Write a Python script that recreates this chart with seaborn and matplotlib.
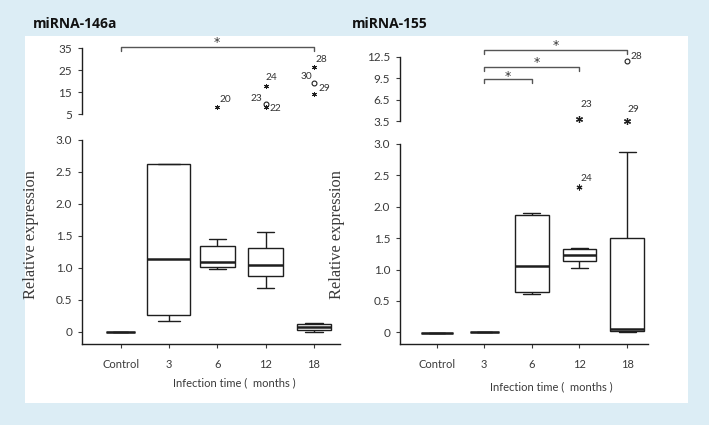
import numpy as np
import pandas as pd
import matplotlib
matplotlib.use("Agg")
import matplotlib.pyplot as plt
from matplotlib.patches import Rectangle
import seaborn as sns

sns.set_style("white")
plt.rcParams['font.family'] = ['Lato', 'DejaVu Sans']

categories = ['Control', '3', '6', '12', '18']

# miRNA-146a box statistics (whisker low, Q1, median, Q3, whisker high)
mir146_low = [0.0, 0.17, 0.99, 0.69, 0.0]
mir146_q1 = [0.0, 0.27, 1.01, 0.87, 0.035]
mir146_med = [0.0, 1.14, 1.09, 1.045, 0.08]
mir146_q3 = [0.0, 2.62, 1.34, 1.305, 0.115]
mir146_high = [0.0, 2.63, 1.45, 1.555, 0.14]
mir146_widths = [0.6, 0.89, 0.72, 0.72, 0.72]

# miRNA-146a outliers (upper broken axis)
mir146_out_cat = ['6', '12', '12', '12', '18', '18', '18']
mir146_out_val = [8.1, 17.6, 9.7, 8.3, 26.4, 19.0, 14.1]
mir146_out_lab = ['20', '24', '23', '22', '28', '30', '29']
mir146_out_mark = ['*', '*', 'o', '*', '*', 'o', '*']

# miRNA-155 box statistics
mir155_low = [-0.015, 0.01, 0.605, 1.025, 0.0]
mir155_q1 = [-0.015, 0.01, 0.637, 1.131, 0.027]
mir155_med = [-0.015, 0.01, 1.057, 1.232, 0.053]
mir155_q3 = [-0.015, 0.01, 1.875, 1.333, 1.498]
mir155_high = [-0.015, 0.01, 1.906, 1.344, 2.878]
mir155_widths = [0.67, 0.61, 0.71, 0.7, 0.71]

# miRNA-155 outliers
mir155_up_cat = ['18', '12', '18']
mir155_up_val = [11.85, 3.76, 3.53]
mir155_up_lab = ['28', '23', '29']
mir155_up_mark = ['o', '*', '*']
mir155_low_cat = ['12']
mir155_low_val = [2.32]
mir155_low_lab = ['24']

TICK_C = '#3a3a3a'
LINE_C = '#1e1e1e'

fig = plt.figure(figsize=(7.09, 4.25), dpi=100)
fig.patch.set_facecolor('#dcedf5')
fig.patches.append(Rectangle((25 / 709, 1 - 403 / 425), 663 / 709, 367 / 425,
                             transform=fig.transFigure, facecolor='white',
                             edgecolor='none', zorder=-10))


def px_axes(x0, x1, y0, y1):
    return fig.add_axes([x0 / 709, 1 - y1 / 425, (x1 - x0) / 709, (y1 - y0) / 425])


def make_df(low, q1, med, q3, high):
    rows = []
    for c, a, b, m, d, e in zip(categories, low, q1, med, q3, high):
        for v in (a, b, m, d, e):
            rows.append({'cat': c, 'val': v})
    return pd.DataFrame(rows)


def draw_boxes(ax, df, widths):
    for c, w in zip(categories, widths):
        sns.boxplot(data=df[df['cat'] == c], x='cat', y='val', order=categories,
                    width=w, color='white', saturation=1, linecolor=LINE_C,
                    linewidth=1.0, showfliers=False, whis=10,
                    medianprops={'linewidth': 1.8, 'color': LINE_C}, ax=ax)


def mark(ax, x, y, m, size_star=4.5, mew=0.8):
    if m == '*':
        ax.plot([x], [y], marker=(6, 2, 0), markersize=size_star, color=LINE_C,
                mew=mew, linestyle='none', clip_on=False, zorder=5)
    else:
        ax.plot([x], [y], marker='o', markersize=3.5, markerfacecolor='white',
                markeredgecolor=LINE_C, mew=0.8, linestyle='none', clip_on=False, zorder=5)


def style_lower(ax, xlim, ylim):
    ax.set_xlim(*xlim)
    ax.set_ylim(*ylim)
    ax.patch.set_alpha(0)
    for s in ('top', 'right'):
        ax.spines[s].set_visible(False)
    for s in ('left', 'bottom'):
        ax.spines[s].set_color(LINE_C)
        ax.spines[s].set_linewidth(1.0)
    ax.spines['left'].set_bounds(ylim[0], 3.0)
    ax.set_yticks([0, 0.5, 1.0, 1.5, 2.0, 2.5, 3.0])
    ax.set_yticklabels(['0', '0.5', '1.0', '1.5', '2.0', '2.5', '3.0'])
    ax.set_xticks(range(len(categories)))
    ax.set_xticklabels(categories)
    ax.tick_params(axis='y', left=True, length=3, width=0.8, color=TICK_C,
                   labelsize=8.5, labelcolor=TICK_C, pad=4)
    ax.tick_params(axis='x', bottom=True, length=3, width=0.8, color=TICK_C,
                   labelsize=8, labelcolor=TICK_C, pad=8)
    ax.set_xlabel('Infection time (  months )', fontsize=8, color=TICK_C)
    ax.set_ylabel('Relative expression', fontsize=11.8, color=TICK_C,
                  family=['Liberation Serif', 'DejaVu Serif'])


def style_upper(ax, xlim, ylim, ticks, labels):
    ax.set_xlim(*xlim)
    ax.set_ylim(*ylim)
    ax.patch.set_alpha(0)
    for s in ('top', 'right', 'bottom'):
        ax.spines[s].set_visible(False)
    ax.spines['left'].set_color(LINE_C)
    ax.spines['left'].set_linewidth(1.0)
    ax.set_xticks([])
    ax.set_yticks(ticks)
    ax.set_yticklabels(labels)
    ax.tick_params(axis='y', left=True, length=3, width=0.8, color=TICK_C,
                   labelsize=8.5, labelcolor=TICK_C, pad=4)


def bracket(ax, x0, x1, y, d, ystar, xstar=None):
    ax.plot([x0, x0, x1, x1], [y - d, y, y, y - d], color='#555555', lw=1.0,
            clip_on=False, zorder=4)
    if xstar is None:
        xstar = (x0 + x1) / 2
    ax.text(xstar, ystar, '*', ha='center', va='center', fontsize=9, color='#333333',
            clip_on=False, family=['DejaVu Sans'])


def label(ax, x, y, t, dx, dy, ha, va='bottom'):
    ax.annotate(t, (x, y), xytext=(dx, dy), textcoords='offset points', ha=ha, va=va,
                fontsize=7.3, color='#333333', annotation_clip=False)


idx = {c: i for i, c in enumerate(categories)}

# ---------------- Left: miRNA-146a ----------------
xlimL = (-0.8, 4.54)
axL = px_axes(82, 340, 140, 344)
draw_boxes(axL, make_df(mir146_low, mir146_q1, mir146_med, mir146_q3, mir146_high), mir146_widths)
style_lower(axL, xlimL, (-0.19, 3.0))
axL.xaxis.set_label_coords(0.59, -0.165)
axL.yaxis.set_label_coords(-0.165, 0.535)

axLu = px_axes(82, 340, 48.3, 114)
style_upper(axLu, xlimL, (5, 35), [5, 15, 25, 35], ['5', '15', '25', '35'])
offs146 = {'20': (1.5, 2, 'left', 'bottom'), '24': (0, 3, 'left', 'bottom'),
           '23': (-2.5, 0.5, 'right', 'bottom'), '22': (2.5, -1, 'left', 'center'),
           '28': (1.5, 2.5, 'left', 'bottom'), '30': (-1.5, 2, 'right', 'bottom'),
           '29': (3.5, 1, 'left', 'bottom')}
for c, v, t, m in zip(mir146_out_cat, mir146_out_val, mir146_out_lab, mir146_out_mark):
    mark(axLu, idx[c], v, m, size_star=3.6, mew=0.7)
    dx, dy, ha, va = offs146[t]
    label(axLu, idx[c], v, t, dx, dy, ha, va)
bracket(axLu, 0, 4, 35.7, 1.8, 37.6)

fig.text(33 / 709, 1 - 24 / 425, 'miRNA-146a', ha='left', va='center', fontsize=10,
         fontweight='bold', family=['Open Sans', 'DejaVu Sans'], color='#111111')

# ---------------- Right: miRNA-155 ----------------
xlimR = (-0.77, 4.44)
axR = px_axes(400, 648, 144, 344)
draw_boxes(axR, make_df(mir155_low, mir155_q1, mir155_med, mir155_q3, mir155_high), mir155_widths)
style_lower(axR, xlimR, (-0.186, 3.0))
axR.xaxis.set_label_coords(0.61, -0.185)
axR.yaxis.set_label_coords(-0.222, 0.545)
for c, v, t in zip(mir155_low_cat, mir155_low_val, mir155_low_lab):
    mark(axR, idx[c], v, '*', size_star=4.2, mew=0.8)
    label(axR, idx[c], v, t, 1, 3, 'left')

axRu = px_axes(400, 648, 56.7, 121)
style_upper(axRu, xlimR, (3.5, 12.5), [3.5, 6.5, 9.5, 12.5], ['3.5', '6.5', '9.5', '12.5'])
offs155 = {'28': (2.5, 0.5, 'left', 'bottom'), '23': (1, 7, 'left', 'bottom'),
           '29': (0, 5, 'left', 'bottom')}
for c, v, t, m in zip(mir155_up_cat, mir155_up_val, mir155_up_lab, mir155_up_mark):
    mark(axRu, idx[c], v, m, size_star=5, mew=0.9)
    dx, dy, ha, va = offs155[t]
    label(axRu, idx[c], v, t, dx, dy, ha, va)
bracket(axRu, 1, 4, 13.44, 0.56, 14.1)
bracket(axRu, 1, 3, 11.1, 0.56, 11.65, xstar=2.11)
bracket(axRu, 1, 2, 9.33, 0.56, 9.75)

fig.text(352 / 709, 1 - 24 / 425, 'miRNA-155', ha='left', va='center', fontsize=10,
         fontweight='bold', family=['Open Sans', 'DejaVu Sans'], color='#111111')

fig.savefig('out.png', dpi=100, facecolor=fig.get_facecolor())
